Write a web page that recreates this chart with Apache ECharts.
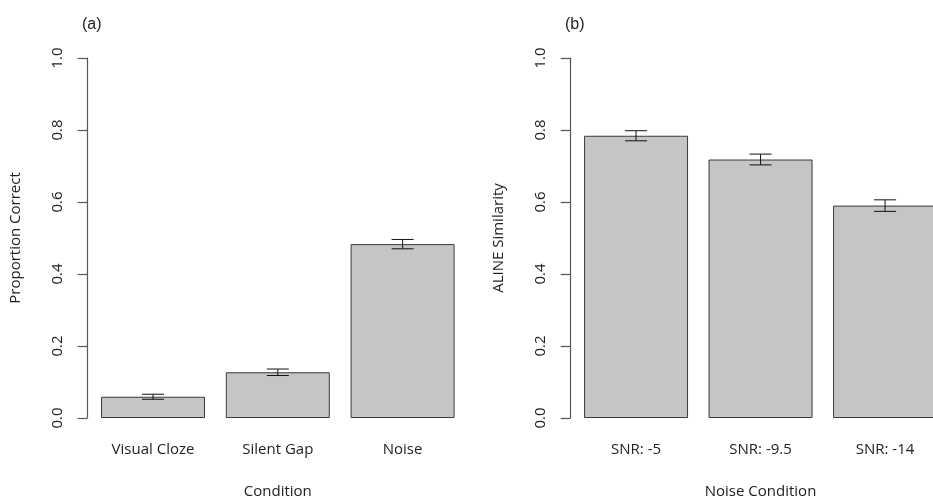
<!DOCTYPE html>
<html>
<head>
<meta charset="utf-8">
<script src="https://cdn.jsdelivr.net/npm/echarts@6/dist/echarts.min.js"></script>
<style>html,body{margin:0;padding:0;background:#fff}#c{width:933px;height:498px}</style>
</head>
<body>
<div id="c"></div>
<script>
const catsA = ['Visual Cloze', 'Silent Gap', 'Noise'];
const valsA = [0.059, 0.127, 0.483];
const errA = [0.007, 0.009, 0.013];
const catsB = ['SNR: -5', 'SNR: -9.5', 'SNR: -14'];
const valsB = [0.784, 0.718, 0.590];
const errB = [0.014, 0.015, 0.016];
const yTicks = [0, 0.2, 0.4, 0.6, 0.8, 1.0];

const FONT = 'Open Sans';
const TXT = '#222';

function errRender(params, api) {
  const x = api.value(0), v = api.value(1), e = api.value(2);
  const top = api.coord([x, v + e]);
  const bot = api.coord([x, v - e]);
  const hw = 11;
  const st = {stroke: '#111', lineWidth: 1};
  return {type: 'group', children: [
    {type: 'line', shape: {x1: top[0], y1: top[1], x2: bot[0], y2: bot[1]}, style: st},
    {type: 'line', shape: {x1: top[0]-hw, y1: top[1], x2: top[0]+hw, y2: top[1]}, style: st},
    {type: 'line', shape: {x1: bot[0]-hw, y1: bot[1], x2: bot[0]+hw, y2: bot[1]}, style: st}
  ]};
}

function yAxisCfg(idx, name) {
  return {
    type: 'value', gridIndex: idx, min: 0, max: 1, interval: 0.2, offset: 3.5,
    name: name, nameLocation: 'middle', nameGap: 64, nameRotate: 90,
    nameTextStyle: {fontFamily: FONT, fontSize: 15, color: TXT},
    axisLine: {show: true, lineStyle: {color: '#555', width: 1.2}},
    axisTick: {show: true, length: 9.5, lineStyle: {color: '#555', width: 1.2}},
    splitLine: {show: false},
    axisLabel: {rotate: 90, margin: 22, fontFamily: FONT, fontSize: 15, color: TXT,
      formatter: v => (yTicks.includes(Math.round(v*10)/10) ? v.toFixed(1) : '')}
  };
}
function xAxisCfg(idx, cats, name) {
  return {
    type: 'category', gridIndex: idx, data: cats,
    name: name, nameLocation: 'middle', nameGap: 66,
    nameTextStyle: {fontFamily: FONT, fontSize: 15, color: TXT},
    axisLine: {show: false}, axisTick: {show: false},
    axisLabel: {margin: 24, fontFamily: FONT, fontSize: 15, color: TXT}
  };
}

const chart = echarts.init(document.getElementById('c'), null, {renderer: 'canvas'});
chart.setOption({
  animation: false,
  backgroundColor: '#fff',
  title: [
    {text: '(a)', left: 77, top: 12, textStyle: {fontFamily: 'Liberation Sans', fontSize: 16, fontWeight: 'normal', color: TXT}},
    {text: '(b)', left: 560, top: 12, textStyle: {fontFamily: 'Liberation Sans', fontSize: 16, fontWeight: 'normal', color: TXT}}
  ],
  grid: [
    {left: 90.6, top: 58, width: 374.4, height: 360, outerBoundsMode: 'none', containLabel: false},
    {left: 573.8, top: 58, width: 373.5, height: 360, outerBoundsMode: 'none', containLabel: false}
  ],
  xAxis: [xAxisCfg(0, catsA, 'Condition'), xAxisCfg(1, catsB, 'Noise Condition')],
  yAxis: [yAxisCfg(0, 'Proportion Correct'), yAxisCfg(1, 'ALINE Similarity')],
  series: [
    {type: 'bar', xAxisIndex: 0, yAxisIndex: 0, data: valsA, barWidth: 104,
     itemStyle: {color: '#c4c5c7', borderColor: '#3a3a3a', borderWidth: 1}},
    {type: 'bar', xAxisIndex: 1, yAxisIndex: 1, data: valsB, barWidth: 104,
     itemStyle: {color: '#c4c5c7', borderColor: '#3a3a3a', borderWidth: 1}},
    {type: 'custom', xAxisIndex: 0, yAxisIndex: 0, renderItem: errRender, z: 5,
     data: valsA.map((v, i) => [i, v, errA[i]])},
    {type: 'custom', xAxisIndex: 1, yAxisIndex: 1, renderItem: errRender, z: 5,
     data: valsB.map((v, i) => [i, v, errB[i]])}
  ]
});
</script>
</body>
</html>
